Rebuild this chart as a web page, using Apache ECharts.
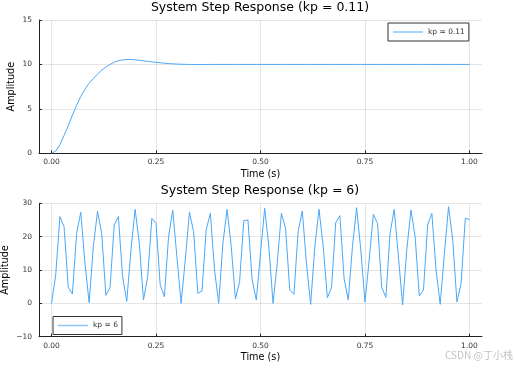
<!DOCTYPE html>
<html><head><meta charset="utf-8">
<script src="https://cdn.jsdelivr.net/npm/echarts@6/dist/echarts.min.js"></script>
<style>html,body{margin:0;padding:0;background:#fff}#c{width:515px;height:368px}</style>
</head><body><div id="c"></div>
<script>
// ---- data ----
const time = [0.00,0.01,0.02,0.03,0.04,0.05,0.06,0.07,0.08,0.09,
  0.10,0.11,0.12,0.13,0.14,0.15,0.16,0.17,0.18,0.19,
  0.20,0.21,0.22,0.23,0.24,0.25,0.26,0.27,0.28,0.29,
  0.30,0.31,0.32,0.33,0.34,0.35,0.36,0.37,0.38,0.39,
  0.40,0.41,0.42,0.43,0.44,0.45,0.46,0.47,0.48,0.49,
  0.50,0.51,0.52,0.53,0.54,0.55,0.56,0.57,0.58,0.59,
  0.60,0.61,0.62,0.63,0.64,0.65,0.66,0.67,0.68,0.69,
  0.70,0.71,0.72,0.73,0.74,0.75,0.76,0.77,0.78,0.79,
  0.80,0.81,0.82,0.83,0.84,0.85,0.86,0.87,0.88,0.89,
  0.90,0.91,0.92,0.93,0.94,0.95,0.96,0.97,0.98,0.99,1.00];
const respKp011 = [0,0.25,0.95,2.0,3.1,4.3,5.4,6.4,7.2,7.9,
  8.4,8.9,9.35,9.7,10.0,10.25,10.42,10.5,10.55,10.55,
  10.52,10.47,10.41,10.35,10.29,10.24,10.19,10.14,10.1,10.07,
  10.04,10.02,10.01,10.0,9.99,9.99,9.99,9.99,10,10,
  10,10,10,10,10,10,10,10,10,10,
  10,10,10,10,10,10,10,10,10,10,
  10,10,10,10,10,10,10,10,10,10,
  10,10,10,10,10,10,10,10,10,10,
  10,10,10,10,10,10,10,10,10,10,
  10,10,10,10,10,10,10,10,10,10,10];
const respKp6 = [0,8.5,26,23,4.8,2.8,21,27.3,12,0.2,
  17,27.6,21,2.4,4.8,23.5,26,8,0.6,16,
  28.2,18,1,8,25.5,24,5.5,2,20,27.9,
  14,0,13,27.3,21.5,3,3.7,22,27,10,
  0,18,28.2,17,1.3,6.5,24.8,25,7,1,
  15,28.5,17,0,12,27,22.5,4,2.7,21.5,
  27.7,12,-0.3,17,28.2,17,1.7,4.8,24.2,26.3,
  7.5,1,17,28.7,16,0.4,13,26.7,24,4.8,
  1.8,21,28.2,14,-0.5,16,28,20,2.2,4,
  23.5,27,10,-0.3,15,29,19,0.4,6,25.5,25.2];
const xTicks = [0, 0.25, 0.5, 0.75, 1];
const seriesNames = ['kp = 0.11', 'kp = 6'];
const titles = ['System Step Response (kp = 0.11)', 'System Step Response (kp = 6)'];
const yLimits = [[0, 15, 5], [-10, 30, 10]];
const xLabel = 'Time (s)';
const yLabel = 'Amplitude';
const watermark = 'CSDN @丁小栈';

// ---- chart ----
const F = 'DejaVu Sans';
const LINE = '#4aa8f7';
const chart = echarts.init(document.getElementById('c'), null, {renderer: 'canvas'});
const grids = [
  {left: 39, top: 20, width: 443, height: 133.3, containLabel: false, outerBoundsMode: 'none'},
  {left: 39, top: 203.3, width: 443, height: 133.4, containLabel: false, outerBoundsMode: 'none'}
];
function xAx(g) {
  return {
    type: 'value', gridIndex: g, min: -0.03, max: 1.03,
    name: xLabel, nameLocation: 'middle', nameGap: 16, nameMoveOverlap: false,
    nameTextStyle: {fontFamily: F, fontSize: 9.7, color: '#000'},
    axisLine: {show: true, onZero: false, lineStyle: {color: '#222', width: 1}},
    axisTick: {show: true, inside: true, length: 3, customValues: xTicks, lineStyle: {color: '#222'}},
    axisLabel: {customValues: xTicks, formatter: v => v.toFixed(2), fontFamily: F, fontSize: 7.5, color: '#333', margin: 5},
    splitLine: {show: true, lineStyle: {color: 'rgba(0,0,0,0.1)', width: 1}}
  };
}
function yAx(g, gap) {
  const L = yLimits[g];
  return {
    type: 'value', gridIndex: g, min: L[0], max: L[1], interval: L[2],
    name: yLabel, nameLocation: 'middle', nameGap: gap, nameMoveOverlap: false,
    nameTextStyle: {fontFamily: F, fontSize: 9.7, color: '#000'},
    axisLine: {show: true, onZero: false, lineStyle: {color: '#222', width: 1}},
    axisTick: {show: true, inside: true, length: 3, lineStyle: {color: '#222'}},
    axisLabel: {formatter: v => (v < 0 ? '\u2212' + Math.abs(v) : String(v)), fontFamily: F, fontSize: 7.5, color: '#333', margin: 7},
    splitLine: {show: true, lineStyle: {color: 'rgba(0,0,0,0.1)', width: 1}}
  };
}
function legendCfg(name, left, top) {
  return {
    data: [name], left: left, top: top, orient: 'horizontal',
    padding: [5, 4, 5, 5], borderColor: '#333', borderWidth: 1, borderRadius: 0,
    icon: 'rect', itemWidth: 30, itemHeight: 1.5, itemGap: 4,
    itemStyle: {color: '#8cc6f8', borderWidth: 0},
    textStyle: {fontFamily: F, fontSize: 7.5, color: '#333', lineHeight: 8}
  };
}
const option = {
  animation: false,
  backgroundColor: '#fff',
  title: [
    {text: titles[0], left: 260, top: 1, textAlign: 'center', padding: 0,
     textStyle: {fontFamily: F, fontSize: 12.5, fontWeight: 'normal', color: '#000'}},
    {text: titles[1], left: 260, top: 184, textAlign: 'center', padding: 0,
     textStyle: {fontFamily: F, fontSize: 12.5, fontWeight: 'normal', color: '#000'}}
  ],
  legend: [legendCfg(seriesNames[0], 388, 23), legendCfg(seriesNames[1], 53, 316.5)],
  grid: grids,
  xAxis: [xAx(0), xAx(1)],
  yAxis: [yAx(0, 23), yAx(1, 28.5)],
  series: [
    {name: seriesNames[0], type: 'line', xAxisIndex: 0, yAxisIndex: 0, showSymbol: false, symbol: 'none',
     lineStyle: {color: LINE, width: 1}, itemStyle: {color: LINE},
     data: time.map((t, i) => [t, respKp011[i]])},
    {name: seriesNames[1], type: 'line', xAxisIndex: 1, yAxisIndex: 1, showSymbol: false, symbol: 'none',
     lineStyle: {color: LINE, width: 1}, itemStyle: {color: LINE},
     data: time.map((t, i) => [t, respKp6[i]])}
  ],
  graphic: [
    {type: 'text', left: 445, top: 350, style: {text: watermark, fontFamily: 'Noto Sans CJK SC', fontSize: 10, fill: '#c4c4c4'}}
  ]
};
chart.setOption(option);
</script>
</body></html>
